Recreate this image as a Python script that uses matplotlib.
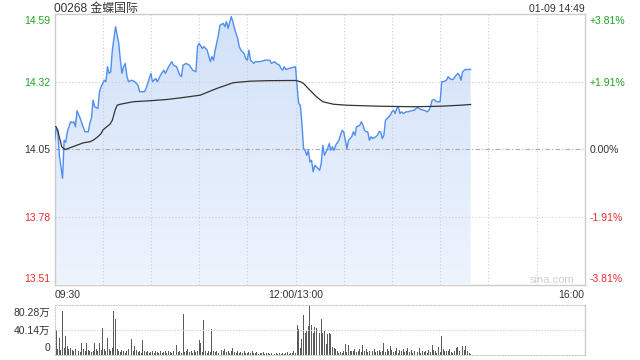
import numpy as np
import matplotlib
matplotlib.use('Agg')
import matplotlib.pyplot as plt
from matplotlib.colors import LinearSegmentedColormap

plt.rcParams['font.family'] = ['Liberation Sans', 'Noto Sans CJK SC', 'DejaVu Sans']

# ---------------------------
# data (minutes from 09:30, lunch break removed; 150 = 12:00/13:00)
# ---------------------------
title = '00268 金蝶国际'
stamp = '01-09 14:49'
prev_close = 14.05

price_t = [0, 1, 2, 3, 5, 6, 7, 8, 10, 11, 12, 13, 14, 16, 17, 19, 21, 22, 23, 24,
           25, 27, 28, 29, 31, 32, 33, 34, 35, 36, 38, 39, 40, 41, 42, 43, 44, 45, 46, 48,
           50, 52, 53, 56, 57, 58, 60, 61, 63, 64, 66, 68, 69, 71, 73, 74, 76, 78, 79, 80,
           82, 84, 86, 88, 89, 90, 92, 93, 95, 97, 98, 99, 100, 102, 103, 105, 106, 107, 108, 110,
           111, 112, 114, 115, 116, 118, 119, 120, 121, 122, 124, 125, 128, 131, 134, 135, 137, 138, 140, 141,
           142, 143, 144, 146, 150,
           151, 152, 153, 154, 155, 156, 157, 158, 159, 160, 161, 162, 163, 165, 166, 167, 168, 169, 170, 171,
           172, 173, 174, 175, 177, 178, 179, 180, 181, 182, 183, 185, 186, 187, 188, 190, 191, 192, 193, 194,
           195, 196, 197, 198, 200, 201, 202, 203, 204, 205, 206, 207, 208, 209, 210, 211, 212, 213, 214, 215,
           216, 217, 219, 220, 222, 224, 225, 226, 228, 230, 232, 233, 234, 235, 236, 238, 240, 241, 242, 244,
           245, 246, 247, 248, 250, 251, 252, 253, 254, 255, 256, 259]
price_v = [14.080, 14.133, 14.126, 14.026, 13.934, 14.086, 14.078, 14.120, 14.160, 14.156,
           14.160, 14.140, 14.204, 14.174, 14.154, 14.120, 14.120, 14.154, 14.174, 14.246,
           14.220, 14.213, 14.280, 14.300, 14.326, 14.320, 14.380, 14.353, 14.360, 14.446,
           14.540, 14.506, 14.473, 14.406, 14.353, 14.380, 14.393, 14.346, 14.320, 14.326,
           14.320, 14.306, 14.280, 14.280, 14.293, 14.313, 14.353, 14.320, 14.333, 14.320,
           14.346, 14.366, 14.353, 14.380, 14.400, 14.386, 14.380, 14.346, 14.340, 14.386,
           14.393, 14.386, 14.366, 14.360, 14.460, 14.473, 14.453, 14.460, 14.446, 14.400,
           14.420, 14.406, 14.446, 14.506, 14.546, 14.553, 14.540, 14.560, 14.533, 14.580,
           14.560, 14.533, 14.493, 14.460, 14.446, 14.433, 14.413, 14.406, 14.446, 14.406,
           14.393, 14.400, 14.400, 14.406, 14.406, 14.393, 14.400, 14.393, 14.386, 14.373,
           14.366, 14.380, 14.369, 14.373, 14.380,
           14.300, 14.233, 14.226, 14.153, 14.053, 14.046, 14.026, 14.046, 13.999, 14.006,
           13.960, 13.986, 13.980, 13.966, 13.993, 14.066, 14.026, 14.040, 14.053, 14.073,
           14.046, 14.060, 14.046, 14.066, 14.086, 14.106, 14.126, 14.120, 14.086, 14.053,
           14.086, 14.100, 14.120, 14.106, 14.140, 14.146, 14.160, 14.146, 14.126, 14.120,
           14.120, 14.086, 14.100, 14.093, 14.100, 14.106, 14.120, 14.120, 14.093, 14.106,
           14.166, 14.173, 14.180, 14.186, 14.200, 14.206, 14.193, 14.213, 14.220, 14.193,
           14.200, 14.193, 14.200, 14.200, 14.204, 14.206, 14.213, 14.217, 14.209, 14.206,
           14.200, 14.206, 14.220, 14.246, 14.249, 14.240, 14.240, 14.320, 14.320, 14.326,
           14.340, 14.333, 14.329, 14.329, 14.346, 14.353, 14.346, 14.326, 14.360, 14.366,
           14.369, 14.369]

avg_t = [0, 1, 2, 4.5, 6.5, 9.6, 13.8, 18, 22, 24, 27, 29, 30, 32.5, 34.5, 36, 37.7, 39, 41, 49,
         59.5, 70, 79, 90.6, 101, 111.3, 121.7, 132, 150,
         153, 155, 156, 159, 163, 167, 173.6, 182, 202.7, 223.4, 240, 252.5, 259]
avg_v = [14.140, 14.140, 14.126, 14.060, 14.049, 14.056, 14.066, 14.076, 14.080, 14.086,
         14.100, 14.113, 14.126, 14.140, 14.150, 14.166, 14.206, 14.226, 14.230, 14.240,
         14.244, 14.249, 14.256, 14.266, 14.293, 14.316, 14.322, 14.324, 14.325,
         14.320, 14.313, 14.306, 14.286, 14.260, 14.240, 14.230, 14.226, 14.222, 14.220,
         14.222, 14.226, 14.229]

# volume per minute, in 万
volume = [29, 40, 10, 28, 8, 71, 12, 31, 14, 10,
          12, 8, 6, 9, 20, 7, 5, 19, 9, 6,
          19, 8, 6, 5, 7, 19, 9, 7, 19, 8,
          44, 10, 7, 28, 9, 6, 12, 71, 58, 10,
          6, 5, 8, 7, 4, 6, 9, 7, 26, 6,
          15, 8, 5, 6, 4, 24, 7, 5, 6, 4,
          5, 7, 4, 6, 5, 3, 6, 4, 5, 7,
          4, 6, 5, 3, 7, 4, 16, 5, 6, 4,
          66, 5, 7, 9, 5, 6, 4, 8, 5, 7,
          24, 20, 5, 56, 6, 4, 7, 5, 41, 6,
          5, 7, 4, 65, 8, 6, 10, 5, 7, 4,
          6, 11, 5, 4, 6, 3, 5, 4, 6, 3,
          4, 5, 3, 6, 4, 3, 5, 2, 4, 3,
          5, 2, 3, 4, 2, 3, 5, 2, 3, 2,
          3, 2, 4, 2, 3, 5, 2, 4, 3, 6, 4,
          48, 42, 12, 26, 65, 35, 38, 47, 80.28, 48,
          36, 45, 44, 22, 36, 57, 36, 39, 18, 33,
          36, 33, 13, 12, 10, 7, 4, 5, 4, 6,
          18, 5, 16, 7, 6, 7, 10, 5, 7, 10,
          5, 16, 6, 10, 5, 7, 15, 6, 10, 5,
          7, 8, 5, 6, 20, 5, 10, 6, 15, 8,
          5, 7, 11, 4, 8, 6, 10, 5, 6, 11,
          5, 8, 4, 6, 7, 5, 11, 4, 6, 5,
          7, 4, 8, 5, 16, 8, 7, 4, 13, 5,
          30, 10, 7, 6, 7, 10, 5, 4, 7, 12,
          13, 6, 20, 15, 8, 15, 7, 4, 2]

price_ticks = [13.51, 13.78, 14.05, 14.32, 14.59]
price_labels = ['13.51', '13.78', '14.05', '14.32', '14.59']
pct_labels = ['-3.81%', '-1.91%', '0.00%', '+1.91%', '+3.81%']
time_pos = [0, 150, 330]
time_labels = ['09:30', '12:00/13:00', '16:00']
vol_ticks = [0, 40.14, 80.28]
vol_labels = ['0', '40.14万', '80.28万']

GREEN = '#1fa31f'
RED = '#ee2b2b'
DARK = '#333333'
GRID = '#cccccc'
PX = 0.72  # points per pixel at dpi 100

fig = plt.figure(figsize=(6.4, 3.6), dpi=100)
ax = fig.add_axes([54.5 / 640, 1 - 284.5 / 360, 530.2 / 640, 270.4 / 360])
axv = fig.add_axes([54.5 / 640, 1 - 355 / 360, 530.2 / 640, 50 / 360])

# ---------------------------
# price panel
# ---------------------------
ymin, ymax = price_ticks[0], price_ticks[-1]
poly = ax.fill_between(price_t, price_v, ymin, color='none', lw=0)
grad = np.linspace(0, 1, 256).reshape(-1, 1)
cmap = LinearSegmentedColormap.from_list('fillgrad', ['#eef4fd', '#d2e1f9'])
im = ax.imshow(grad, extent=[0, 330, ymin, ymax], origin='lower', aspect='auto',
               cmap=cmap, zorder=1)
im.set_clip_path(poly.get_paths()[0], transform=ax.transData)

ax.plot(price_t, price_v, color='#4f8ef0', lw=1.0, zorder=3)
ax.plot(avg_t, avg_v, color=DARK, lw=0.9, zorder=4)

ax.set_xlim(0, 330)
ax.set_ylim(ymin, ymax)
ax.set_xticks([])
ax.set_yticks([])
for s in ax.spines.values():
    s.set_color(GRID)
    s.set_linewidth(1)

for gx in range(30, 330, 30):
    ax.axvline(gx, color=GRID, lw=0.8, ls=(0, (1, 2)), zorder=2)
ax.axhline(price_ticks[1], color=GRID, lw=0.8, ls=(0, (1, 2)), zorder=2)
ax.axhline(price_ticks[3], color=GRID, lw=0.8, ls=(0, (1, 2)), zorder=2)
ax.axhline(prev_close, color='#aaaaaa', lw=0.8, ls=(0, (4, 2, 1, 2)), zorder=2)

for i, (v, lab, pct) in enumerate(zip(price_ticks, price_labels, pct_labels)):
    col = GREEN if v > prev_close else (RED if v < prev_close else DARK)
    dy = 0
    if i == 0:
        dy = 6.5
    elif i == len(price_ticks) - 1:
        dy = -6
    ax.annotate(lab, xy=(0, v), xycoords=('axes fraction', 'data'),
                xytext=(-4 * PX, dy * PX), textcoords='offset points',
                ha='right', va='center_baseline', fontsize=7.5, color=col)
    ax.annotate(pct, xy=(1, v), xycoords=('axes fraction', 'data'),
                xytext=(5 * PX, dy * PX), textcoords='offset points',
                ha='left', va='center_baseline', fontsize=7.5, color=col)

for xp, lab, ha in zip(time_pos, time_labels, ['left', 'center', 'right']):
    ax.annotate(lab, xy=(xp, 0), xycoords=('data', 'axes fraction'),
                xytext=(0, -10 * PX), textcoords='offset points',
                ha=ha, va='center_baseline', fontsize=7.5, color=DARK)

ax.text(0, 1 + 6.5 / 270.4, title, transform=ax.transAxes, ha='left',
        va='center_baseline', fontsize=8.6, color=DARK)
ax.text(1, 1 + 6 / 270.4, stamp, transform=ax.transAxes, ha='right',
        va='center_baseline', fontsize=7.5, color=DARK)
ax.text(0.938, 0.02, 'sina.com', transform=ax.transAxes, ha='center',
        va='center_baseline', fontsize=8, color='#cfcfcf', zorder=5)

# ---------------------------
# volume panel
# ---------------------------
axv.bar(np.arange(len(volume)), volume, width=0.6, color='#5a5a5a', lw=0)
axv.set_xlim(0, 330)
axv.set_ylim(0, vol_ticks[-1])
axv.set_xticks([])
axv.set_yticks([])
for name in ['top', 'bottom', 'left']:
    axv.spines[name].set_color(GRID)
    axv.spines[name].set_linestyle((0, (1, 1.5)))
    axv.spines[name].set_linewidth(0.8)
axv.spines['right'].set_color(GRID)
axv.spines['right'].set_linewidth(1)
axv.axhline(vol_ticks[1], color=GRID, lw=0.8, ls=(0, (1, 1.5)))

for i, (v, lab) in enumerate(zip(vol_ticks, vol_labels)):
    dy = 0
    if i == 0:
        dy = 8
    elif i == len(vol_ticks) - 1:
        dy = -7
    axv.annotate(lab, xy=(0, v), xycoords=('axes fraction', 'data'),
                 xytext=(-4 * PX, dy * PX), textcoords='offset points',
                 ha='right', va='center_baseline', fontsize=7.5, color=DARK)

fig.savefig('out.png', dpi=100)
